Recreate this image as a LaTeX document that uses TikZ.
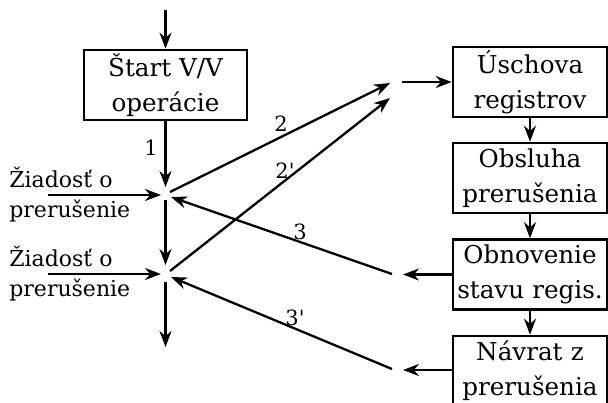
\documentclass[tikz,border=0pt]{standalone}
\usepackage{fontspec}
\setmainfont{DejaVu Serif}
\usetikzlibrary{arrows.meta}
\begin{document}
\begin{tikzpicture}[x=0.5pt,y=-0.5pt,
  box/.style={draw, line width=1.3pt, minimum height=35pt, inner sep=0pt,
    align=center, font=\fontsize{12.3}{17.5}\selectfont},
  leftbox/.style={box, minimum width=81.5pt},
  rightbox/.style={box, minimum width=77pt, text width=76pt},
  arr/.style={line width=1.15pt, -{Stealth[length=8pt,width=6pt,inset=2.6pt]}},
  side/.style={font=\fontsize{11}{15}\selectfont, align=left, inner sep=0pt, anchor=west},
  lbl/.style={font=\fontsize{10.5}{12}\selectfont, inner sep=0pt}]
\useasboundingbox (0,0) rectangle (608,402);
\clip (0,0) rectangle (608,402);

% boxes
\node[leftbox] (start) at (165.5,85) {Štart V/V\\operácie};
\node[rightbox] (usch) at (530,82) {Úschova\\registrov};
\node[rightbox] (obsl) at (530,178) {Obsluha\\prerušenia};
\node[rightbox] (obnov) at (530,274.5) {Obnovenie\\stavu regis.};
\node[rightbox] (navrat) at (530,371) {Návrat z\\prerušenia};

% side texts
\node[side] (req1) at (9,195) {Žiadosť o\\prerušenie};
\node[side] (req2) at (9,274) {Žiadosť o\\prerušenie};

% free ends of the connectors
\coordinate (top) at (165.5,10);
\coordinate (j1in) at (165.5,187);
\coordinate (j1out) at (165.5,200);
\coordinate (j2in) at (165.5,265);
\coordinate (j2out) at (165.5,282);
\coordinate (bottom) at (165.5,347);
\coordinate (in1s) at (48,195);
\coordinate (in1e) at (161,195);
\coordinate (in2s) at (48,274);
\coordinate (in2e) at (161,274);
\coordinate (a2s) at (170,192);
\coordinate (a2e) at (390,83);
\coordinate (b2s) at (170,271);
\coordinate (b2e) at (390,98);
\coordinate (outs) at (402,82);
\coordinate (r3e) at (403,274.5);
\coordinate (r3s) at (392,274);
\coordinate (r3t) at (171,197);
\coordinate (q3e) at (403,370);
\coordinate (q3s) at (392,369);
\coordinate (q3t) at (171,277);

% main vertical flow
\draw[arr] (top) -- (start);
\draw[arr] (start) -- (j1in);
\draw[arr] (j1out) -- (j2in);
\draw[arr] (j2out) -- (bottom);
\draw[arr] (in1s) -- (in1e);
\draw[arr] (in2s) -- (in2e);

% jumps to the interrupt routine
\draw[arr] (a2s) -- (a2e);
\draw[arr] (b2s) -- (b2e);
\draw[arr] (outs) -- (usch);

% interrupt routine
\draw[arr] (usch) -- (obsl);
\draw[arr] (obsl) -- (obnov);
\draw[arr] (obnov) -- (navrat);
\draw[arr] (obnov.west) -- (r3e);
\draw[arr] (navrat.west |- q3e) -- (q3e);

% returns
\draw[arr] (r3s) -- (r3t);
\draw[arr] (q3s) -- (q3t);

% labels
\node[lbl] (l1) at (151,148) {1};
\node[lbl] (l2) at (281,124) {2};
\node[lbl] (l2p) at (285,171) {2\textquotesingle};
\node[lbl] (l3) at (300,232) {3};
\node[lbl] (l3p) at (295,318) {3\textquotesingle};
\end{tikzpicture}
\end{document}
